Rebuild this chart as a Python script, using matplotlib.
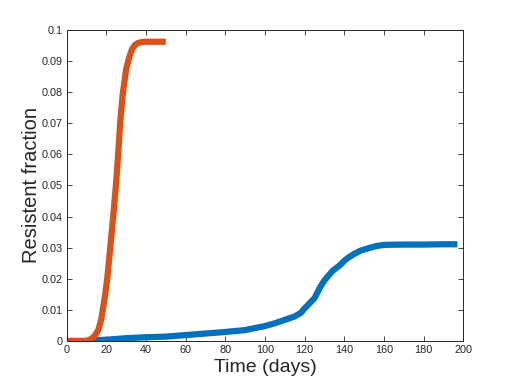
import matplotlib
matplotlib.use('Agg')
import matplotlib.pyplot as plt

plt.rcParams['font.family'] = ['Liberation Sans', 'DejaVu Sans']

# resistant fraction, slow growth (blue)
days_blue = [0, 10, 12, 20, 30, 40, 50, 60, 70, 80, 90, 96, 100, 105, 110, 115,
             118, 120, 122, 125, 128, 130, 134, 138, 140, 142, 145, 148, 152,
             156, 160, 170, 180, 190, 197]
frac_blue = [0, 0, 0.0001, 0.0004, 0.0009, 0.0012, 0.0014, 0.0019, 0.0024,
             0.0029, 0.0035, 0.0043, 0.0048, 0.0057, 0.0068, 0.0079, 0.0090,
             0.0105, 0.0118, 0.0138, 0.0175, 0.0195, 0.0225, 0.0245, 0.0258,
             0.0268, 0.0280, 0.0290, 0.0298, 0.0305, 0.0309, 0.0310, 0.0310,
             0.0311, 0.0311]

# resistant fraction, fast growth (orange)
days_orange = [0, 10, 12, 14, 16, 17.5, 18.5, 19.5, 20.5, 22, 23.5, 25, 26,
               27, 28.3, 30, 31.7, 33, 34.5, 36, 38, 40, 45, 50]
frac_orange = [0, 0, 0.0005, 0.0015, 0.0035, 0.0070, 0.0110, 0.0150, 0.0200,
               0.0300, 0.0400, 0.0510, 0.0600, 0.0700, 0.0793, 0.0873, 0.0915,
               0.0938, 0.0952, 0.0958, 0.0961, 0.0962, 0.0962, 0.0962]

x_ticks = [0, 20, 40, 60, 80, 100, 120, 140, 160, 180, 200]
y_ticks = [0, 0.01, 0.02, 0.03, 0.04, 0.05, 0.06, 0.07, 0.08, 0.09, 0.1]
y_labels = ['0', '0.01', '0.02', '0.03', '0.04', '0.05', '0.06', '0.07',
            '0.08', '0.09', '0.1']

fig = plt.figure(figsize=(5.12, 3.84), dpi=100)
ax = fig.add_axes([0.13, 0.112, 0.775, 0.81])

ax.plot(days_blue, frac_blue, color='#0072BD', lw=4.5, solid_capstyle='butt')
ax.plot(days_orange, frac_orange, color='#D95319', lw=4.5, solid_capstyle='butt')

ax.set_xlim(0, 200)
ax.set_ylim(0, 0.1)
ax.set_xticks(x_ticks)
ax.set_xticklabels([str(t) for t in x_ticks])
ax.set_yticks(y_ticks)
ax.set_yticklabels(y_labels)

ax.tick_params(direction='in', length=3.5, width=0.6, top=True, right=True,
               labelsize=7.8, colors='#262626', pad=3)
for s in ax.spines.values():
    s.set_linewidth(0.7)
    s.set_color('#262626')

ax.set_xlabel('Time (days)', fontsize=14, color='#262626', labelpad=3)
ax.set_ylabel('Resistent fraction', fontsize=14.5, color='#262626', labelpad=0)

fig.savefig('out.png', dpi=100)
